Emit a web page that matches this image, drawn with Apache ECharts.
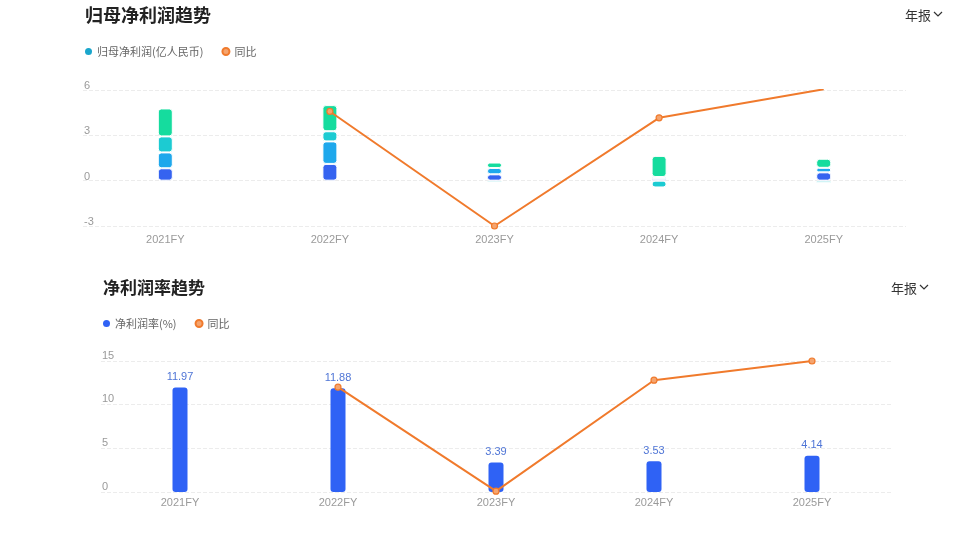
<!DOCTYPE html>
<html><head><meta charset="utf-8">
<script src="https://cdn.jsdelivr.net/npm/echarts@6/dist/echarts.min.js"></script>
<style>html,body{margin:0;padding:0;background:#fff}#c{width:960px;height:534px}</style>
</head><body><div id="c"></div>
<script>
const categories = ['2021FY','2022FY','2023FY','2024FY','2025FY'];
// top chart: quarterly pieces of 归母净利润 (亿人民币)
const q1Profit = [0.82, 1.11, 0.42, 0.12, 0.55];
const q2Profit = [1.05, 1.49, 0.42, 0.12, 0.30];
const q3Profit = [1.06, 0.67, -0.12, -0.45, -0.14];
const q4Profit = [1.85, 1.73, 0.36, 1.40, 0.60];
const profitYoy = [null, 4.58, -3.0, 4.16, 6.05];
const profitTicks = [-3, 0, 3, 6];
// bottom chart
const netMargin = [11.97, 11.88, 3.39, 3.53, 4.14];
const marginYoy = [null, 12.0, 0.1, 12.8, 15.0];
const marginTicks = [0, 5, 10, 15];

const qColors = ['#3563f0', '#1ea8ec', '#1ccbd2', '#15dc9e'];
const orange = '#f07a2c';
const font = '"Noto Sans CJK SC","Noto Sans",sans-serif';

const chart = echarts.init(document.getElementById('c'));
function qSeries(name, data, color) {
  return { name, type:'bar', stack:'p', xAxisIndex:0, yAxisIndex:0, data, barWidth:15,
    itemStyle:{ color, borderColor:'#fff', borderWidth:1, borderRadius:3 }, silent:true };
}
const lineStyle = (xi, yi, name, data) => ({
  name, type:'line', xAxisIndex:xi, yAxisIndex:yi, data, symbol:'circle', symbolSize:6,
  lineStyle:{ color:orange, width:2 }, itemStyle:{ color:'#f5a46e', borderColor:orange, borderWidth:1.2 },
  z:5
});
const axisLabel = { color:'#9a9a9a', fontSize:11, fontFamily:'Helvetica, Arial, sans-serif' };
chart.setOption({
  animation:false,
  textStyle:{ fontFamily:font },
  title:[
    { text:'归母净利润趋势', left:80, top:1, textStyle:{ fontSize:18, fontWeight:'bold', color:'#222', fontFamily:font } },
    { text:'净利润率趋势', left:98, top:274, textStyle:{ fontSize:17, fontWeight:'bold', color:'#222', fontFamily:font } },
    { text:'年报', left:900, top:4, textStyle:{ fontSize:13, fontWeight:'normal', color:'#333', fontFamily:font } },
    { text:'年报', left:886, top:277, textStyle:{ fontSize:13, fontWeight:'normal', color:'#333', fontFamily:font } }
  ],
  graphic:[
    { type:'polyline', shape:{ points:[[934,12],[938,16],[942,12]] }, style:{ stroke:'#333', lineWidth:1.2, fill:null } },
    { type:'polyline', shape:{ points:[[920,285],[924,289],[928,285]] }, style:{ stroke:'#333', lineWidth:1.2, fill:null } }
  ],
  legend:[
    { data:['归母净利润(亿人民币)', '同比'], left:80, top:41, icon:'circle', itemWidth:7, itemHeight:7, itemGap:18,
      textStyle:{ fontSize:11, color:'#666', fontFamily:font }, selectedMode:false },
    { data:['净利润率(%)', '同比 '], left:98, top:313, icon:'circle', itemWidth:7, itemHeight:7, itemGap:18,
      formatter: n => n.trim(),
      textStyle:{ fontSize:11, color:'#666', fontFamily:font }, selectedMode:false }
  ],
  grid:[
    { left:83, right:54, top:90, height:136 },
    { left:101, right:69, top:361, height:131 }
  ],
  xAxis:[
    { type:'category', gridIndex:0, data:categories, axisLine:{show:false}, axisTick:{show:false}, axisLabel:{...axisLabel, margin:8} },
    { type:'category', gridIndex:1, data:categories, axisLine:{show:false}, axisTick:{show:false}, axisLabel:{...axisLabel, margin:5} }
  ],
  yAxis:[
    { type:'value', gridIndex:0, min:profitTicks[0], max:profitTicks[profitTicks.length-1], interval:3,
      axisLabel:{...axisLabel, inside:true, margin:1, verticalAlign:'bottom', lineHeight:8},
      splitLine:{ lineStyle:{ color:'#ececec', type:'dashed' } } },
    { type:'value', gridIndex:1, min:marginTicks[0], max:marginTicks[marginTicks.length-1], interval:5,
      axisLabel:{...axisLabel, inside:true, margin:1, verticalAlign:'bottom', lineHeight:11},
      splitLine:{ lineStyle:{ color:'#ececec', type:'dashed' } } }
  ],
  series:[
    qSeries('Q1', q1Profit, qColors[0]),
    qSeries('Q2', q2Profit, qColors[1]),
    qSeries('Q3', q3Profit, qColors[2]),
    qSeries('Q4', q4Profit, qColors[3]),
    { name:'归母净利润(亿人民币)', type:'line', xAxisIndex:0, yAxisIndex:0, data:[], itemStyle:{ color:'#1aa6cc' } },
    lineStyle(0, 0, '同比', profitYoy),
    { name:'净利润率(%)', type:'bar', xAxisIndex:1, yAxisIndex:1, data:netMargin, barWidth:15,
      itemStyle:{ color:'#2f62f5', borderRadius:3 },
      label:{ show:true, position:'top', color:'#4f75d6', fontSize:11, distance:5, fontFamily:'Helvetica, Arial, sans-serif' } },
    lineStyle(1, 1, '同比 ', marginYoy)
  ]
});
</script></body></html>
